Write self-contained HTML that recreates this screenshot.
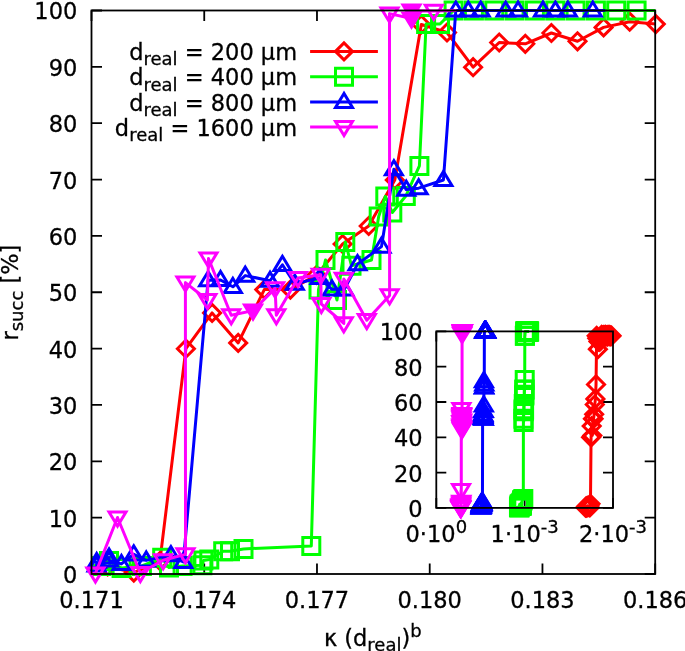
<!DOCTYPE html>
<html lang="en"><head><meta charset="utf-8"><title>r_succ vs kappa</title>
<style>html,body{margin:0;padding:0;background:#fff;}svg{display:block;}text{stroke:#000;stroke-width:0.3px;}</style></head>
<body>
<svg width="685" height="651" viewBox="0 0 685 651" font-family="'DejaVu Sans', 'Liberation Sans', sans-serif" font-size="22.5" fill="#000" stroke="none">
<rect width="685" height="651" fill="#fff"/>
<defs><clipPath id="pc"><rect x="91.5" y="8.5" width="563.7" height="567.5"/></clipPath></defs>
<path d="M91.5,574 h10.5 M655.2,574 h-10.5 M91.5,517.65 h10.5 M655.2,517.65 h-10.5 M91.5,461.3 h10.5 M655.2,461.3 h-10.5 M91.5,404.95 h10.5 M655.2,404.95 h-10.5 M91.5,348.6 h10.5 M655.2,348.6 h-10.5 M91.5,292.25 h10.5 M655.2,292.25 h-10.5 M91.5,235.9 h10.5 M655.2,235.9 h-10.5 M91.5,179.55 h10.5 M655.2,179.55 h-10.5 M91.5,123.2 h10.5 M655.2,123.2 h-10.5 M91.5,66.85 h10.5 M655.2,66.85 h-10.5 M91.5,10.5 h10.5 M655.2,10.5 h-10.5 M91.5,574 v-10.5 M91.5,10.5 v10.5 M204.24,574 v-10.5 M204.24,10.5 v10.5 M316.98,574 v-10.5 M316.98,10.5 v10.5 M429.72,574 v-10.5 M542.46,574 v-10.5 M655.2,574 v-10.5 M655.2,10.5 v10.5" stroke="#000" stroke-width="1.8" fill="none"/>
<line x1="310.1" y1="51.4" x2="377.9" y2="51.4" stroke="#ff0000" stroke-width="3.0"/>
<path d="M335.5,51.4 L344,42.9 L352.5,51.4 L344,59.9 Z" fill="none" stroke="#ff0000" stroke-width="3.0" stroke-linejoin="miter" stroke-miterlimit="10"/>
<polyline points="81.6,568.93 107.7,566.5 133.8,572.6 159.9,561 185.9,348.7 212.1,312.9 238.2,342.9 264.3,289.6 290.4,289.6 316.5,275 342.6,244 368.7,226 394.8,180 421.3,24.5 447,32.5 473.1,67.2 499.2,42.5 525.3,43.8 551.4,33 577.5,41.3 603.6,27.4 629.7,21.7 655.8,24.1 681.9,26.28" fill="none" stroke="#ff0000" stroke-width="3.0" stroke-linejoin="round" clip-path="url(#pc)"/>
<path d="M99.2,566.5 L107.7,558 L116.2,566.5 L107.7,575 Z" fill="none" stroke="#ff0000" stroke-width="3.0" stroke-linejoin="miter" stroke-miterlimit="10"/>
<path d="M125.3,572.6 L133.8,564.1 L142.3,572.6 L133.8,581.1 Z" fill="none" stroke="#ff0000" stroke-width="3.0" stroke-linejoin="miter" stroke-miterlimit="10"/>
<path d="M151.4,561 L159.9,552.5 L168.4,561 L159.9,569.5 Z" fill="none" stroke="#ff0000" stroke-width="3.0" stroke-linejoin="miter" stroke-miterlimit="10"/>
<path d="M177.4,348.7 L185.9,340.2 L194.4,348.7 L185.9,357.2 Z" fill="none" stroke="#ff0000" stroke-width="3.0" stroke-linejoin="miter" stroke-miterlimit="10"/>
<path d="M203.6,312.9 L212.1,304.4 L220.6,312.9 L212.1,321.4 Z" fill="none" stroke="#ff0000" stroke-width="3.0" stroke-linejoin="miter" stroke-miterlimit="10"/>
<path d="M229.7,342.9 L238.2,334.4 L246.7,342.9 L238.2,351.4 Z" fill="none" stroke="#ff0000" stroke-width="3.0" stroke-linejoin="miter" stroke-miterlimit="10"/>
<path d="M255.8,289.6 L264.3,281.1 L272.8,289.6 L264.3,298.1 Z" fill="none" stroke="#ff0000" stroke-width="3.0" stroke-linejoin="miter" stroke-miterlimit="10"/>
<path d="M281.9,289.6 L290.4,281.1 L298.9,289.6 L290.4,298.1 Z" fill="none" stroke="#ff0000" stroke-width="3.0" stroke-linejoin="miter" stroke-miterlimit="10"/>
<path d="M308,275 L316.5,266.5 L325,275 L316.5,283.5 Z" fill="none" stroke="#ff0000" stroke-width="3.0" stroke-linejoin="miter" stroke-miterlimit="10"/>
<path d="M334.1,244 L342.6,235.5 L351.1,244 L342.6,252.5 Z" fill="none" stroke="#ff0000" stroke-width="3.0" stroke-linejoin="miter" stroke-miterlimit="10"/>
<path d="M360.2,226 L368.7,217.5 L377.2,226 L368.7,234.5 Z" fill="none" stroke="#ff0000" stroke-width="3.0" stroke-linejoin="miter" stroke-miterlimit="10"/>
<path d="M386.3,180 L394.8,171.5 L403.3,180 L394.8,188.5 Z" fill="none" stroke="#ff0000" stroke-width="3.0" stroke-linejoin="miter" stroke-miterlimit="10"/>
<path d="M412.8,24.5 L421.3,16 L429.8,24.5 L421.3,33 Z" fill="none" stroke="#ff0000" stroke-width="3.0" stroke-linejoin="miter" stroke-miterlimit="10"/>
<path d="M438.5,32.5 L447,24 L455.5,32.5 L447,41 Z" fill="none" stroke="#ff0000" stroke-width="3.0" stroke-linejoin="miter" stroke-miterlimit="10"/>
<path d="M464.6,67.2 L473.1,58.7 L481.6,67.2 L473.1,75.7 Z" fill="none" stroke="#ff0000" stroke-width="3.0" stroke-linejoin="miter" stroke-miterlimit="10"/>
<path d="M490.7,42.5 L499.2,34 L507.7,42.5 L499.2,51 Z" fill="none" stroke="#ff0000" stroke-width="3.0" stroke-linejoin="miter" stroke-miterlimit="10"/>
<path d="M516.8,43.8 L525.3,35.3 L533.8,43.8 L525.3,52.3 Z" fill="none" stroke="#ff0000" stroke-width="3.0" stroke-linejoin="miter" stroke-miterlimit="10"/>
<path d="M542.9,33 L551.4,24.5 L559.9,33 L551.4,41.5 Z" fill="none" stroke="#ff0000" stroke-width="3.0" stroke-linejoin="miter" stroke-miterlimit="10"/>
<path d="M569,41.3 L577.5,32.8 L586,41.3 L577.5,49.8 Z" fill="none" stroke="#ff0000" stroke-width="3.0" stroke-linejoin="miter" stroke-miterlimit="10"/>
<path d="M595.1,27.4 L603.6,18.9 L612.1,27.4 L603.6,35.9 Z" fill="none" stroke="#ff0000" stroke-width="3.0" stroke-linejoin="miter" stroke-miterlimit="10"/>
<path d="M621.2,21.7 L629.7,13.2 L638.2,21.7 L629.7,30.2 Z" fill="none" stroke="#ff0000" stroke-width="3.0" stroke-linejoin="miter" stroke-miterlimit="10"/>
<path d="M647.3,24.1 L655.8,15.6 L664.3,24.1 L655.8,32.6 Z" fill="none" stroke="#ff0000" stroke-width="3.0" stroke-linejoin="miter" stroke-miterlimit="10"/>
<line x1="310.1" y1="76.7" x2="377.9" y2="76.7" stroke="#00ff00" stroke-width="3.0"/>
<path d="M335.5,68.2 H352.5 V85.2 H335.5 Z" fill="none" stroke="#00ff00" stroke-width="3.0" stroke-linejoin="miter" stroke-miterlimit="10"/>
<polyline points="80.97,564.98 101.3,566 109,561 121.6,568 141.9,566 162.2,557.8 169,567.6 182.6,566 202.4,565.2 203.4,560.4 209.3,559.4 223.2,551.3 230,551.3 243.5,548.9 311.3,545.9 318.5,289.5 325.5,260 337,300 345.3,242 351.5,265.7 371.5,260 378.7,216.5 385.3,196.4 392.3,212.5 405.8,196 419.4,165.9 426.1,24 440,24 453.6,10.5 473.93,10.5 494.26,10.5 514.59,10.5 534.92,10.5 555.25,10.5 575.58,10.5 595.91,10.5 616.24,10.5 636.57,10.5 656.9,10.5" fill="none" stroke="#00ff00" stroke-width="3.0" stroke-linejoin="round" clip-path="url(#pc)"/>
<path d="M92.8,557.5 H109.8 V574.5 H92.8 Z" fill="none" stroke="#00ff00" stroke-width="3.0" stroke-linejoin="miter" stroke-miterlimit="10"/>
<path d="M100.5,552.5 H117.5 V569.5 H100.5 Z" fill="none" stroke="#00ff00" stroke-width="3.0" stroke-linejoin="miter" stroke-miterlimit="10"/>
<path d="M113.1,559.5 H130.1 V576.5 H113.1 Z" fill="none" stroke="#00ff00" stroke-width="3.0" stroke-linejoin="miter" stroke-miterlimit="10"/>
<path d="M133.4,557.5 H150.4 V574.5 H133.4 Z" fill="none" stroke="#00ff00" stroke-width="3.0" stroke-linejoin="miter" stroke-miterlimit="10"/>
<path d="M153.7,549.3 H170.7 V566.3 H153.7 Z" fill="none" stroke="#00ff00" stroke-width="3.0" stroke-linejoin="miter" stroke-miterlimit="10"/>
<path d="M160.5,559.1 H177.5 V576.1 H160.5 Z" fill="none" stroke="#00ff00" stroke-width="3.0" stroke-linejoin="miter" stroke-miterlimit="10"/>
<path d="M174.1,557.5 H191.1 V574.5 H174.1 Z" fill="none" stroke="#00ff00" stroke-width="3.0" stroke-linejoin="miter" stroke-miterlimit="10"/>
<path d="M193.9,556.7 H210.9 V573.7 H193.9 Z" fill="none" stroke="#00ff00" stroke-width="3.0" stroke-linejoin="miter" stroke-miterlimit="10"/>
<path d="M194.9,551.9 H211.9 V568.9 H194.9 Z" fill="none" stroke="#00ff00" stroke-width="3.0" stroke-linejoin="miter" stroke-miterlimit="10"/>
<path d="M200.8,550.9 H217.8 V567.9 H200.8 Z" fill="none" stroke="#00ff00" stroke-width="3.0" stroke-linejoin="miter" stroke-miterlimit="10"/>
<path d="M214.7,542.8 H231.7 V559.8 H214.7 Z" fill="none" stroke="#00ff00" stroke-width="3.0" stroke-linejoin="miter" stroke-miterlimit="10"/>
<path d="M221.5,542.8 H238.5 V559.8 H221.5 Z" fill="none" stroke="#00ff00" stroke-width="3.0" stroke-linejoin="miter" stroke-miterlimit="10"/>
<path d="M235,540.4 H252 V557.4 H235 Z" fill="none" stroke="#00ff00" stroke-width="3.0" stroke-linejoin="miter" stroke-miterlimit="10"/>
<path d="M302.8,537.4 H319.8 V554.4 H302.8 Z" fill="none" stroke="#00ff00" stroke-width="3.0" stroke-linejoin="miter" stroke-miterlimit="10"/>
<path d="M310,281 H327 V298 H310 Z" fill="none" stroke="#00ff00" stroke-width="3.0" stroke-linejoin="miter" stroke-miterlimit="10"/>
<path d="M317,251.5 H334 V268.5 H317 Z" fill="none" stroke="#00ff00" stroke-width="3.0" stroke-linejoin="miter" stroke-miterlimit="10"/>
<path d="M328.5,291.5 H345.5 V308.5 H328.5 Z" fill="none" stroke="#00ff00" stroke-width="3.0" stroke-linejoin="miter" stroke-miterlimit="10"/>
<path d="M336.8,233.5 H353.8 V250.5 H336.8 Z" fill="none" stroke="#00ff00" stroke-width="3.0" stroke-linejoin="miter" stroke-miterlimit="10"/>
<path d="M343,257.2 H360 V274.2 H343 Z" fill="none" stroke="#00ff00" stroke-width="3.0" stroke-linejoin="miter" stroke-miterlimit="10"/>
<path d="M363,251.5 H380 V268.5 H363 Z" fill="none" stroke="#00ff00" stroke-width="3.0" stroke-linejoin="miter" stroke-miterlimit="10"/>
<path d="M370.2,208 H387.2 V225 H370.2 Z" fill="none" stroke="#00ff00" stroke-width="3.0" stroke-linejoin="miter" stroke-miterlimit="10"/>
<path d="M376.8,187.9 H393.8 V204.9 H376.8 Z" fill="none" stroke="#00ff00" stroke-width="3.0" stroke-linejoin="miter" stroke-miterlimit="10"/>
<path d="M383.8,204 H400.8 V221 H383.8 Z" fill="none" stroke="#00ff00" stroke-width="3.0" stroke-linejoin="miter" stroke-miterlimit="10"/>
<path d="M397.3,187.5 H414.3 V204.5 H397.3 Z" fill="none" stroke="#00ff00" stroke-width="3.0" stroke-linejoin="miter" stroke-miterlimit="10"/>
<path d="M410.9,157.4 H427.9 V174.4 H410.9 Z" fill="none" stroke="#00ff00" stroke-width="3.0" stroke-linejoin="miter" stroke-miterlimit="10"/>
<path d="M417.6,15.5 H434.6 V32.5 H417.6 Z" fill="none" stroke="#00ff00" stroke-width="3.0" stroke-linejoin="miter" stroke-miterlimit="10"/>
<path d="M431.5,15.5 H448.5 V32.5 H431.5 Z" fill="none" stroke="#00ff00" stroke-width="3.0" stroke-linejoin="miter" stroke-miterlimit="10"/>
<path d="M445.1,2 H462.1 V19 H445.1 Z" fill="none" stroke="#00ff00" stroke-width="3.0" stroke-linejoin="miter" stroke-miterlimit="10"/>
<path d="M465.43,2 H482.43 V19 H465.43 Z" fill="none" stroke="#00ff00" stroke-width="3.0" stroke-linejoin="miter" stroke-miterlimit="10"/>
<path d="M485.76,2 H502.76 V19 H485.76 Z" fill="none" stroke="#00ff00" stroke-width="3.0" stroke-linejoin="miter" stroke-miterlimit="10"/>
<path d="M506.09,2 H523.09 V19 H506.09 Z" fill="none" stroke="#00ff00" stroke-width="3.0" stroke-linejoin="miter" stroke-miterlimit="10"/>
<path d="M526.42,2 H543.42 V19 H526.42 Z" fill="none" stroke="#00ff00" stroke-width="3.0" stroke-linejoin="miter" stroke-miterlimit="10"/>
<path d="M546.75,2 H563.75 V19 H546.75 Z" fill="none" stroke="#00ff00" stroke-width="3.0" stroke-linejoin="miter" stroke-miterlimit="10"/>
<path d="M567.08,2 H584.08 V19 H567.08 Z" fill="none" stroke="#00ff00" stroke-width="3.0" stroke-linejoin="miter" stroke-miterlimit="10"/>
<path d="M587.41,2 H604.41 V19 H587.41 Z" fill="none" stroke="#00ff00" stroke-width="3.0" stroke-linejoin="miter" stroke-miterlimit="10"/>
<path d="M607.74,2 H624.74 V19 H607.74 Z" fill="none" stroke="#00ff00" stroke-width="3.0" stroke-linejoin="miter" stroke-miterlimit="10"/>
<path d="M628.07,2 H645.07 V19 H628.07 Z" fill="none" stroke="#00ff00" stroke-width="3.0" stroke-linejoin="miter" stroke-miterlimit="10"/>
<line x1="310.1" y1="102.0" x2="377.9" y2="102.0" stroke="#0000ff" stroke-width="3.0"/>
<path d="M344,93.5 L335.5,107.6 L352.5,107.6 Z" fill="none" stroke="#0000ff" stroke-width="3.0" stroke-linejoin="miter" stroke-miterlimit="10"/>
<polyline points="84.25,561.6 96.63,562 96.63,565.3 109.02,557.5 109.02,560.4 121.41,563.9 133.79,554.3 146.18,560.4 170.94,555.1 183.33,562 208.1,280.2 220.49,280 232.87,286.8 245.26,275.6 270.02,280.7 282.41,264.8 294.8,283.7 319.57,278 331.95,289.3 344.34,289.3 357.52,264.1 381.49,246.6 393.88,169.2 406.26,189.6 418.64,188.2 443.42,180 455.8,10.5 468.25,10.5 480.7,10.5 505.6,10.5 518.05,10.5 542.95,10.5 555.4,10.5 567.85,10.5 592.75,10.5 605.2,10.5" fill="none" stroke="#0000ff" stroke-width="3.0" stroke-linejoin="round" clip-path="url(#pc)"/>
<path d="M96.63,553.5 L88.13,567.6 L105.13,567.6 Z" fill="none" stroke="#0000ff" stroke-width="3.0" stroke-linejoin="miter" stroke-miterlimit="10"/>
<path d="M96.63,556.8 L88.13,570.9 L105.13,570.9 Z" fill="none" stroke="#0000ff" stroke-width="3.0" stroke-linejoin="miter" stroke-miterlimit="10"/>
<path d="M109.02,549 L100.52,563.1 L117.52,563.1 Z" fill="none" stroke="#0000ff" stroke-width="3.0" stroke-linejoin="miter" stroke-miterlimit="10"/>
<path d="M109.02,551.9 L100.52,566 L117.52,566 Z" fill="none" stroke="#0000ff" stroke-width="3.0" stroke-linejoin="miter" stroke-miterlimit="10"/>
<path d="M121.41,555.4 L112.91,569.5 L129.91,569.5 Z" fill="none" stroke="#0000ff" stroke-width="3.0" stroke-linejoin="miter" stroke-miterlimit="10"/>
<path d="M133.79,545.8 L125.29,559.9 L142.29,559.9 Z" fill="none" stroke="#0000ff" stroke-width="3.0" stroke-linejoin="miter" stroke-miterlimit="10"/>
<path d="M146.18,551.9 L137.68,566 L154.68,566 Z" fill="none" stroke="#0000ff" stroke-width="3.0" stroke-linejoin="miter" stroke-miterlimit="10"/>
<path d="M170.94,546.6 L162.44,560.7 L179.44,560.7 Z" fill="none" stroke="#0000ff" stroke-width="3.0" stroke-linejoin="miter" stroke-miterlimit="10"/>
<path d="M183.33,553.5 L174.83,567.6 L191.83,567.6 Z" fill="none" stroke="#0000ff" stroke-width="3.0" stroke-linejoin="miter" stroke-miterlimit="10"/>
<path d="M208.1,271.7 L199.6,285.8 L216.6,285.8 Z" fill="none" stroke="#0000ff" stroke-width="3.0" stroke-linejoin="miter" stroke-miterlimit="10"/>
<path d="M220.49,271.5 L211.99,285.6 L228.99,285.6 Z" fill="none" stroke="#0000ff" stroke-width="3.0" stroke-linejoin="miter" stroke-miterlimit="10"/>
<path d="M232.87,278.3 L224.37,292.4 L241.37,292.4 Z" fill="none" stroke="#0000ff" stroke-width="3.0" stroke-linejoin="miter" stroke-miterlimit="10"/>
<path d="M245.26,267.1 L236.76,281.2 L253.76,281.2 Z" fill="none" stroke="#0000ff" stroke-width="3.0" stroke-linejoin="miter" stroke-miterlimit="10"/>
<path d="M270.02,272.2 L261.52,286.3 L278.52,286.3 Z" fill="none" stroke="#0000ff" stroke-width="3.0" stroke-linejoin="miter" stroke-miterlimit="10"/>
<path d="M282.41,256.3 L273.91,270.4 L290.91,270.4 Z" fill="none" stroke="#0000ff" stroke-width="3.0" stroke-linejoin="miter" stroke-miterlimit="10"/>
<path d="M294.8,275.2 L286.3,289.3 L303.3,289.3 Z" fill="none" stroke="#0000ff" stroke-width="3.0" stroke-linejoin="miter" stroke-miterlimit="10"/>
<path d="M319.57,269.5 L311.07,283.6 L328.07,283.6 Z" fill="none" stroke="#0000ff" stroke-width="3.0" stroke-linejoin="miter" stroke-miterlimit="10"/>
<path d="M331.95,280.8 L323.45,294.9 L340.45,294.9 Z" fill="none" stroke="#0000ff" stroke-width="3.0" stroke-linejoin="miter" stroke-miterlimit="10"/>
<path d="M344.34,280.8 L335.84,294.9 L352.84,294.9 Z" fill="none" stroke="#0000ff" stroke-width="3.0" stroke-linejoin="miter" stroke-miterlimit="10"/>
<path d="M357.52,255.6 L349.02,269.7 L366.02,269.7 Z" fill="none" stroke="#0000ff" stroke-width="3.0" stroke-linejoin="miter" stroke-miterlimit="10"/>
<path d="M381.49,238.1 L372.99,252.2 L389.99,252.2 Z" fill="none" stroke="#0000ff" stroke-width="3.0" stroke-linejoin="miter" stroke-miterlimit="10"/>
<path d="M393.88,160.7 L385.38,174.8 L402.38,174.8 Z" fill="none" stroke="#0000ff" stroke-width="3.0" stroke-linejoin="miter" stroke-miterlimit="10"/>
<path d="M406.26,181.1 L397.76,195.2 L414.76,195.2 Z" fill="none" stroke="#0000ff" stroke-width="3.0" stroke-linejoin="miter" stroke-miterlimit="10"/>
<path d="M418.64,179.7 L410.14,193.8 L427.14,193.8 Z" fill="none" stroke="#0000ff" stroke-width="3.0" stroke-linejoin="miter" stroke-miterlimit="10"/>
<path d="M443.42,171.5 L434.92,185.6 L451.92,185.6 Z" fill="none" stroke="#0000ff" stroke-width="3.0" stroke-linejoin="miter" stroke-miterlimit="10"/>
<path d="M455.8,2 L447.3,16.1 L464.3,16.1 Z" fill="none" stroke="#0000ff" stroke-width="3.0" stroke-linejoin="miter" stroke-miterlimit="10"/>
<path d="M468.25,2 L459.75,16.1 L476.75,16.1 Z" fill="none" stroke="#0000ff" stroke-width="3.0" stroke-linejoin="miter" stroke-miterlimit="10"/>
<path d="M480.7,2 L472.2,16.1 L489.2,16.1 Z" fill="none" stroke="#0000ff" stroke-width="3.0" stroke-linejoin="miter" stroke-miterlimit="10"/>
<path d="M505.6,2 L497.1,16.1 L514.1,16.1 Z" fill="none" stroke="#0000ff" stroke-width="3.0" stroke-linejoin="miter" stroke-miterlimit="10"/>
<path d="M518.05,2 L509.55,16.1 L526.55,16.1 Z" fill="none" stroke="#0000ff" stroke-width="3.0" stroke-linejoin="miter" stroke-miterlimit="10"/>
<path d="M542.95,2 L534.45,16.1 L551.45,16.1 Z" fill="none" stroke="#0000ff" stroke-width="3.0" stroke-linejoin="miter" stroke-miterlimit="10"/>
<path d="M555.4,2 L546.9,16.1 L563.9,16.1 Z" fill="none" stroke="#0000ff" stroke-width="3.0" stroke-linejoin="miter" stroke-miterlimit="10"/>
<path d="M567.85,2 L559.35,16.1 L576.35,16.1 Z" fill="none" stroke="#0000ff" stroke-width="3.0" stroke-linejoin="miter" stroke-miterlimit="10"/>
<path d="M592.75,2 L584.25,16.1 L601.25,16.1 Z" fill="none" stroke="#0000ff" stroke-width="3.0" stroke-linejoin="miter" stroke-miterlimit="10"/>
<line x1="310.1" y1="127.1" x2="377.9" y2="127.1" stroke="#ff00ff" stroke-width="3.0"/>
<path d="M344,135.6 L335.5,121.5 L352.5,121.5 Z" fill="none" stroke="#ff00ff" stroke-width="3.0" stroke-linejoin="miter" stroke-miterlimit="10"/>
<polyline points="72.8,572.31 95.4,573.5 117.5,517.5 140.3,573 163.1,560.3 185.5,554.4 185.4,282.6 207.4,300 208.5,258.5 231.2,315.3 253,310.6 275.1,288.4 276.3,315.3 298,278 320.7,274.8 321.3,304 343.8,323.4 343.8,278.9 366.8,320.2 389.6,295.4 389.5,13.6 411.5,18.5 411.5,10.7 433.8,10.9 456.4,10.5" fill="none" stroke="#ff00ff" stroke-width="3.0" stroke-linejoin="round" clip-path="url(#pc)"/>
<path d="M95.4,582 L86.9,567.9 L103.9,567.9 Z" fill="none" stroke="#ff00ff" stroke-width="3.0" stroke-linejoin="miter" stroke-miterlimit="10"/>
<path d="M117.5,526 L109,511.9 L126,511.9 Z" fill="none" stroke="#ff00ff" stroke-width="3.0" stroke-linejoin="miter" stroke-miterlimit="10"/>
<path d="M140.3,581.5 L131.8,567.4 L148.8,567.4 Z" fill="none" stroke="#ff00ff" stroke-width="3.0" stroke-linejoin="miter" stroke-miterlimit="10"/>
<path d="M163.1,568.8 L154.6,554.7 L171.6,554.7 Z" fill="none" stroke="#ff00ff" stroke-width="3.0" stroke-linejoin="miter" stroke-miterlimit="10"/>
<path d="M185.5,562.9 L177,548.8 L194,548.8 Z" fill="none" stroke="#ff00ff" stroke-width="3.0" stroke-linejoin="miter" stroke-miterlimit="10"/>
<path d="M185.4,291.1 L176.9,277 L193.9,277 Z" fill="none" stroke="#ff00ff" stroke-width="3.0" stroke-linejoin="miter" stroke-miterlimit="10"/>
<path d="M207.4,308.5 L198.9,294.4 L215.9,294.4 Z" fill="none" stroke="#ff00ff" stroke-width="3.0" stroke-linejoin="miter" stroke-miterlimit="10"/>
<path d="M208.5,267 L200,252.9 L217,252.9 Z" fill="none" stroke="#ff00ff" stroke-width="3.0" stroke-linejoin="miter" stroke-miterlimit="10"/>
<path d="M231.2,323.8 L222.7,309.7 L239.7,309.7 Z" fill="none" stroke="#ff00ff" stroke-width="3.0" stroke-linejoin="miter" stroke-miterlimit="10"/>
<path d="M253,319.1 L244.5,305 L261.5,305 Z" fill="#ff00ff" stroke="#ff00ff" stroke-width="3.0" stroke-linejoin="miter" stroke-miterlimit="10"/>
<path d="M275.1,296.9 L266.6,282.8 L283.6,282.8 Z" fill="none" stroke="#ff00ff" stroke-width="3.0" stroke-linejoin="miter" stroke-miterlimit="10"/>
<path d="M276.3,323.8 L267.8,309.7 L284.8,309.7 Z" fill="none" stroke="#ff00ff" stroke-width="3.0" stroke-linejoin="miter" stroke-miterlimit="10"/>
<path d="M298,286.5 L289.5,272.4 L306.5,272.4 Z" fill="none" stroke="#ff00ff" stroke-width="3.0" stroke-linejoin="miter" stroke-miterlimit="10"/>
<path d="M320.7,283.3 L312.2,269.2 L329.2,269.2 Z" fill="none" stroke="#ff00ff" stroke-width="3.0" stroke-linejoin="miter" stroke-miterlimit="10"/>
<path d="M321.3,312.5 L312.8,298.4 L329.8,298.4 Z" fill="none" stroke="#ff00ff" stroke-width="3.0" stroke-linejoin="miter" stroke-miterlimit="10"/>
<path d="M343.8,331.9 L335.3,317.8 L352.3,317.8 Z" fill="none" stroke="#ff00ff" stroke-width="3.0" stroke-linejoin="miter" stroke-miterlimit="10"/>
<path d="M343.8,287.4 L335.3,273.3 L352.3,273.3 Z" fill="none" stroke="#ff00ff" stroke-width="3.0" stroke-linejoin="miter" stroke-miterlimit="10"/>
<path d="M366.8,328.7 L358.3,314.6 L375.3,314.6 Z" fill="none" stroke="#ff00ff" stroke-width="3.0" stroke-linejoin="miter" stroke-miterlimit="10"/>
<path d="M389.6,303.9 L381.1,289.8 L398.1,289.8 Z" fill="none" stroke="#ff00ff" stroke-width="3.0" stroke-linejoin="miter" stroke-miterlimit="10"/>
<path d="M389.5,22.1 L381,8 L398,8 Z" fill="none" stroke="#ff00ff" stroke-width="3.0" stroke-linejoin="miter" stroke-miterlimit="10"/>
<path d="M411.5,27 L403,12.9 L420,12.9 Z" fill="#ff00ff" stroke="#ff00ff" stroke-width="3.0" stroke-linejoin="miter" stroke-miterlimit="10"/>
<path d="M411.5,19.2 L403,5.1 L420,5.1 Z" fill="#ff00ff" stroke="#ff00ff" stroke-width="3.0" stroke-linejoin="miter" stroke-miterlimit="10"/>
<path d="M433.8,19.4 L425.3,5.3 L442.3,5.3 Z" fill="none" stroke="#ff00ff" stroke-width="3.0" stroke-linejoin="miter" stroke-miterlimit="10"/>
<rect x="91.5" y="10.5" width="563.7" height="563.5" fill="none" stroke="#000" stroke-width="1.8"/>
<text x="77.3" y="582.95" text-anchor="end">0</text>
<text x="77.3" y="526.6" text-anchor="end">10</text>
<text x="77.3" y="470.25" text-anchor="end">20</text>
<text x="77.3" y="413.9" text-anchor="end">30</text>
<text x="77.3" y="357.55" text-anchor="end">40</text>
<text x="77.3" y="301.2" text-anchor="end">50</text>
<text x="77.3" y="244.85" text-anchor="end">60</text>
<text x="77.3" y="188.5" text-anchor="end">70</text>
<text x="77.3" y="132.15" text-anchor="end">80</text>
<text x="77.3" y="75.8" text-anchor="end">90</text>
<text x="77.3" y="19.45" text-anchor="end">100</text>
<text x="91.5" y="607.6" text-anchor="middle">0.171</text>
<text x="204.24" y="607.6" text-anchor="middle">0.174</text>
<text x="316.98" y="607.6" text-anchor="middle">0.177</text>
<text x="429.72" y="607.6" text-anchor="middle">0.180</text>
<text x="542.46" y="607.6" text-anchor="middle">0.183</text>
<text x="655.2" y="607.6" text-anchor="middle">0.186</text>
<text transform="translate(17.5,292.6) rotate(-90)" text-anchor="middle">r<tspan font-size="18" dy="5.2">succ</tspan><tspan dy="-5.2"> [%]</tspan></text>
<text x="372.8" y="645.8" text-anchor="middle">κ (d<tspan font-size="18" dy="5.2">real</tspan><tspan dy="-5.2">)</tspan><tspan font-size="18" dy="-9">b</tspan></text>
<text x="297.1" y="60" text-anchor="end">d<tspan font-size="18" dy="5.2">real</tspan><tspan dy="-5.2"> = 200 µm</tspan></text>
<text x="297.1" y="85.3" text-anchor="end">d<tspan font-size="18" dy="5.2">real</tspan><tspan dy="-5.2"> = 400 µm</tspan></text>
<text x="297.1" y="110.6" text-anchor="end">d<tspan font-size="18" dy="5.2">real</tspan><tspan dy="-5.2"> = 800 µm</tspan></text>
<text x="297.1" y="135.7" text-anchor="end">d<tspan font-size="18" dy="5.2">real</tspan><tspan dy="-5.2"> = 1600 µm</tspan></text>
<path d="M436.3,507.9 h10 M613,507.9 h-10 M436.3,472.6 h10 M613,472.6 h-10 M436.3,437.3 h10 M613,437.3 h-10 M436.3,402 h10 M613,402 h-10 M436.3,366.7 h10 M613,366.7 h-10 M436.3,331.4 h10 M613,331.4 h-10 M436.3,507.9 v-10 M436.3,331.4 v10 M524.65,507.9 v-10 M524.65,331.4 v10 M613,507.9 v-10 M613,331.4 v10" stroke="#000" stroke-width="1.8" fill="none"/>
<polyline points="585.5,507.55 586.12,506.49 586.74,507.72 587.36,505.78 587.98,507.19 588.6,506.31 589.22,505.55 589.84,507.46 590.46,503.83 591.07,437.33 591.69,426.12 592.31,435.51 592.93,418.82 593.55,418.82 594.17,414.25 594.79,404.54 595.41,398.9 596.03,384.49 596.66,335.79 597.27,338.29 597.89,349.16 598.51,341.42 599.13,341.83 599.75,338.45 600.37,341.05 600.99,336.69 601.61,334.91 602.23,335.66 602.85,336.34 603.47,335.11 604.08,336.69 604.7,335.46 605.32,334.93 605.94,335.99 606.56,335.28 607.18,336.52 607.8,335.11 608.42,335.81 609.04,334.93 609.66,336.17 610.28,335.28 610.9,336.34 611.52,335.64" fill="none" stroke="#ff0000" stroke-width="3.0" stroke-linejoin="round"/>
<path d="M577,507.55 L585.5,499.05 L594,507.55 L585.5,516.05 Z" fill="none" stroke="#ff0000" stroke-width="3.0" stroke-linejoin="miter" stroke-miterlimit="10"/>
<path d="M577.62,506.49 L586.12,497.99 L594.62,506.49 L586.12,514.99 Z" fill="none" stroke="#ff0000" stroke-width="3.0" stroke-linejoin="miter" stroke-miterlimit="10"/>
<path d="M578.24,507.72 L586.74,499.22 L595.24,507.72 L586.74,516.22 Z" fill="none" stroke="#ff0000" stroke-width="3.0" stroke-linejoin="miter" stroke-miterlimit="10"/>
<path d="M578.86,505.78 L587.36,497.28 L595.86,505.78 L587.36,514.28 Z" fill="none" stroke="#ff0000" stroke-width="3.0" stroke-linejoin="miter" stroke-miterlimit="10"/>
<path d="M579.48,507.19 L587.98,498.69 L596.48,507.19 L587.98,515.69 Z" fill="none" stroke="#ff0000" stroke-width="3.0" stroke-linejoin="miter" stroke-miterlimit="10"/>
<path d="M580.1,506.31 L588.6,497.81 L597.1,506.31 L588.6,514.81 Z" fill="none" stroke="#ff0000" stroke-width="3.0" stroke-linejoin="miter" stroke-miterlimit="10"/>
<path d="M580.72,505.55 L589.22,497.05 L597.72,505.55 L589.22,514.05 Z" fill="none" stroke="#ff0000" stroke-width="3.0" stroke-linejoin="miter" stroke-miterlimit="10"/>
<path d="M581.34,507.46 L589.84,498.96 L598.34,507.46 L589.84,515.96 Z" fill="none" stroke="#ff0000" stroke-width="3.0" stroke-linejoin="miter" stroke-miterlimit="10"/>
<path d="M581.96,503.83 L590.46,495.33 L598.96,503.83 L590.46,512.33 Z" fill="none" stroke="#ff0000" stroke-width="3.0" stroke-linejoin="miter" stroke-miterlimit="10"/>
<path d="M582.57,437.33 L591.07,428.83 L599.57,437.33 L591.07,445.83 Z" fill="none" stroke="#ff0000" stroke-width="3.0" stroke-linejoin="miter" stroke-miterlimit="10"/>
<path d="M583.19,426.12 L591.69,417.62 L600.19,426.12 L591.69,434.62 Z" fill="none" stroke="#ff0000" stroke-width="3.0" stroke-linejoin="miter" stroke-miterlimit="10"/>
<path d="M583.81,435.51 L592.31,427.01 L600.81,435.51 L592.31,444.01 Z" fill="none" stroke="#ff0000" stroke-width="3.0" stroke-linejoin="miter" stroke-miterlimit="10"/>
<path d="M584.43,418.82 L592.93,410.32 L601.43,418.82 L592.93,427.32 Z" fill="none" stroke="#ff0000" stroke-width="3.0" stroke-linejoin="miter" stroke-miterlimit="10"/>
<path d="M585.05,418.82 L593.55,410.32 L602.05,418.82 L593.55,427.32 Z" fill="none" stroke="#ff0000" stroke-width="3.0" stroke-linejoin="miter" stroke-miterlimit="10"/>
<path d="M585.67,414.25 L594.17,405.75 L602.67,414.25 L594.17,422.75 Z" fill="none" stroke="#ff0000" stroke-width="3.0" stroke-linejoin="miter" stroke-miterlimit="10"/>
<path d="M586.29,404.54 L594.79,396.04 L603.29,404.54 L594.79,413.04 Z" fill="none" stroke="#ff0000" stroke-width="3.0" stroke-linejoin="miter" stroke-miterlimit="10"/>
<path d="M586.91,398.9 L595.41,390.4 L603.91,398.9 L595.41,407.4 Z" fill="none" stroke="#ff0000" stroke-width="3.0" stroke-linejoin="miter" stroke-miterlimit="10"/>
<path d="M587.53,384.49 L596.03,375.99 L604.53,384.49 L596.03,392.99 Z" fill="none" stroke="#ff0000" stroke-width="3.0" stroke-linejoin="miter" stroke-miterlimit="10"/>
<path d="M588.16,335.79 L596.66,327.29 L605.16,335.79 L596.66,344.29 Z" fill="none" stroke="#ff0000" stroke-width="3.0" stroke-linejoin="miter" stroke-miterlimit="10"/>
<path d="M588.77,338.29 L597.27,329.79 L605.77,338.29 L597.27,346.79 Z" fill="none" stroke="#ff0000" stroke-width="3.0" stroke-linejoin="miter" stroke-miterlimit="10"/>
<path d="M589.39,349.16 L597.89,340.66 L606.39,349.16 L597.89,357.66 Z" fill="none" stroke="#ff0000" stroke-width="3.0" stroke-linejoin="miter" stroke-miterlimit="10"/>
<path d="M590.01,341.42 L598.51,332.92 L607.01,341.42 L598.51,349.92 Z" fill="none" stroke="#ff0000" stroke-width="3.0" stroke-linejoin="miter" stroke-miterlimit="10"/>
<path d="M590.63,341.83 L599.13,333.33 L607.63,341.83 L599.13,350.33 Z" fill="none" stroke="#ff0000" stroke-width="3.0" stroke-linejoin="miter" stroke-miterlimit="10"/>
<path d="M591.25,338.45 L599.75,329.95 L608.25,338.45 L599.75,346.95 Z" fill="none" stroke="#ff0000" stroke-width="3.0" stroke-linejoin="miter" stroke-miterlimit="10"/>
<path d="M591.87,341.05 L600.37,332.55 L608.87,341.05 L600.37,349.55 Z" fill="none" stroke="#ff0000" stroke-width="3.0" stroke-linejoin="miter" stroke-miterlimit="10"/>
<path d="M592.49,336.69 L600.99,328.19 L609.49,336.69 L600.99,345.19 Z" fill="none" stroke="#ff0000" stroke-width="3.0" stroke-linejoin="miter" stroke-miterlimit="10"/>
<path d="M593.11,334.91 L601.61,326.41 L610.11,334.91 L601.61,343.41 Z" fill="none" stroke="#ff0000" stroke-width="3.0" stroke-linejoin="miter" stroke-miterlimit="10"/>
<path d="M593.73,335.66 L602.23,327.16 L610.73,335.66 L602.23,344.16 Z" fill="none" stroke="#ff0000" stroke-width="3.0" stroke-linejoin="miter" stroke-miterlimit="10"/>
<path d="M594.35,336.34 L602.85,327.84 L611.35,336.34 L602.85,344.84 Z" fill="none" stroke="#ff0000" stroke-width="3.0" stroke-linejoin="miter" stroke-miterlimit="10"/>
<path d="M594.97,335.11 L603.47,326.61 L611.97,335.11 L603.47,343.61 Z" fill="none" stroke="#ff0000" stroke-width="3.0" stroke-linejoin="miter" stroke-miterlimit="10"/>
<path d="M595.58,336.69 L604.08,328.19 L612.58,336.69 L604.08,345.19 Z" fill="none" stroke="#ff0000" stroke-width="3.0" stroke-linejoin="miter" stroke-miterlimit="10"/>
<path d="M596.2,335.46 L604.7,326.96 L613.2,335.46 L604.7,343.96 Z" fill="none" stroke="#ff0000" stroke-width="3.0" stroke-linejoin="miter" stroke-miterlimit="10"/>
<path d="M596.82,334.93 L605.32,326.43 L613.82,334.93 L605.32,343.43 Z" fill="none" stroke="#ff0000" stroke-width="3.0" stroke-linejoin="miter" stroke-miterlimit="10"/>
<path d="M597.44,335.99 L605.94,327.49 L614.44,335.99 L605.94,344.49 Z" fill="none" stroke="#ff0000" stroke-width="3.0" stroke-linejoin="miter" stroke-miterlimit="10"/>
<path d="M598.06,335.28 L606.56,326.78 L615.06,335.28 L606.56,343.78 Z" fill="none" stroke="#ff0000" stroke-width="3.0" stroke-linejoin="miter" stroke-miterlimit="10"/>
<path d="M598.68,336.52 L607.18,328.02 L615.68,336.52 L607.18,345.02 Z" fill="none" stroke="#ff0000" stroke-width="3.0" stroke-linejoin="miter" stroke-miterlimit="10"/>
<path d="M599.3,335.11 L607.8,326.61 L616.3,335.11 L607.8,343.61 Z" fill="none" stroke="#ff0000" stroke-width="3.0" stroke-linejoin="miter" stroke-miterlimit="10"/>
<path d="M599.92,335.81 L608.42,327.31 L616.92,335.81 L608.42,344.31 Z" fill="none" stroke="#ff0000" stroke-width="3.0" stroke-linejoin="miter" stroke-miterlimit="10"/>
<path d="M600.54,334.93 L609.04,326.43 L617.54,334.93 L609.04,343.43 Z" fill="none" stroke="#ff0000" stroke-width="3.0" stroke-linejoin="miter" stroke-miterlimit="10"/>
<path d="M601.16,336.17 L609.66,327.67 L618.16,336.17 L609.66,344.67 Z" fill="none" stroke="#ff0000" stroke-width="3.0" stroke-linejoin="miter" stroke-miterlimit="10"/>
<path d="M601.78,335.28 L610.28,326.78 L618.78,335.28 L610.28,343.78 Z" fill="none" stroke="#ff0000" stroke-width="3.0" stroke-linejoin="miter" stroke-miterlimit="10"/>
<path d="M602.4,336.34 L610.9,327.84 L619.4,336.34 L610.9,344.84 Z" fill="none" stroke="#ff0000" stroke-width="3.0" stroke-linejoin="miter" stroke-miterlimit="10"/>
<path d="M603.02,335.64 L611.52,327.14 L620.02,335.64 L611.52,344.14 Z" fill="none" stroke="#ff0000" stroke-width="3.0" stroke-linejoin="miter" stroke-miterlimit="10"/>
<polyline points="518.96,507.37 519.23,505.43 519.5,507.55 519.76,504.19 520.03,506.49 520.29,505.08 520.56,505.39 520.66,503.83 520.83,506.02 521.09,505.39 521.36,502.83 521.45,505.9 521.62,505.39 521.88,505.14 521.9,503.64 521.97,503.33 522.16,500.79 522.25,500.79 522.42,500.04 523.31,499.1 523.4,418.79 523.5,409.55 523.65,422.08 523.75,403.91 523.84,411.33 524.1,409.55 524.19,395.92 524.28,389.63 524.37,394.67 524.55,389.5 524.72,380.07 524.81,335.63 524.99,335.63 525.17,331.4 525.44,331.4 525.7,331.4 525.97,331.4 526.24,331.4 526.5,331.4 526.77,331.4 527.04,331.4 527.3,331.4 527.57,331.4 527.83,331.4 528.1,331.4 528.37,331.4 528.63,331.4 528.9,331.4 529.17,331.4" fill="none" stroke="#00ff00" stroke-width="3.0" stroke-linejoin="round"/>
<path d="M510.46,498.87 H527.46 V515.87 H510.46 Z" fill="none" stroke="#00ff00" stroke-width="3.0" stroke-linejoin="miter" stroke-miterlimit="10"/>
<path d="M510.73,496.93 H527.73 V513.93 H510.73 Z" fill="none" stroke="#00ff00" stroke-width="3.0" stroke-linejoin="miter" stroke-miterlimit="10"/>
<path d="M511,499.05 H528 V516.05 H511 Z" fill="none" stroke="#00ff00" stroke-width="3.0" stroke-linejoin="miter" stroke-miterlimit="10"/>
<path d="M511.26,495.69 H528.26 V512.69 H511.26 Z" fill="none" stroke="#00ff00" stroke-width="3.0" stroke-linejoin="miter" stroke-miterlimit="10"/>
<path d="M511.53,497.99 H528.53 V514.99 H511.53 Z" fill="none" stroke="#00ff00" stroke-width="3.0" stroke-linejoin="miter" stroke-miterlimit="10"/>
<path d="M511.79,496.58 H528.79 V513.58 H511.79 Z" fill="none" stroke="#00ff00" stroke-width="3.0" stroke-linejoin="miter" stroke-miterlimit="10"/>
<path d="M512.06,496.89 H529.06 V513.89 H512.06 Z" fill="none" stroke="#00ff00" stroke-width="3.0" stroke-linejoin="miter" stroke-miterlimit="10"/>
<path d="M512.16,495.33 H529.16 V512.33 H512.16 Z" fill="none" stroke="#00ff00" stroke-width="3.0" stroke-linejoin="miter" stroke-miterlimit="10"/>
<path d="M512.33,497.52 H529.33 V514.52 H512.33 Z" fill="none" stroke="#00ff00" stroke-width="3.0" stroke-linejoin="miter" stroke-miterlimit="10"/>
<path d="M512.59,496.89 H529.59 V513.89 H512.59 Z" fill="none" stroke="#00ff00" stroke-width="3.0" stroke-linejoin="miter" stroke-miterlimit="10"/>
<path d="M512.86,494.33 H529.86 V511.33 H512.86 Z" fill="none" stroke="#00ff00" stroke-width="3.0" stroke-linejoin="miter" stroke-miterlimit="10"/>
<path d="M512.95,497.4 H529.95 V514.4 H512.95 Z" fill="none" stroke="#00ff00" stroke-width="3.0" stroke-linejoin="miter" stroke-miterlimit="10"/>
<path d="M513.12,496.89 H530.12 V513.89 H513.12 Z" fill="none" stroke="#00ff00" stroke-width="3.0" stroke-linejoin="miter" stroke-miterlimit="10"/>
<path d="M513.38,496.64 H530.38 V513.64 H513.38 Z" fill="none" stroke="#00ff00" stroke-width="3.0" stroke-linejoin="miter" stroke-miterlimit="10"/>
<path d="M513.4,495.14 H530.4 V512.14 H513.4 Z" fill="none" stroke="#00ff00" stroke-width="3.0" stroke-linejoin="miter" stroke-miterlimit="10"/>
<path d="M513.47,494.83 H530.47 V511.83 H513.47 Z" fill="none" stroke="#00ff00" stroke-width="3.0" stroke-linejoin="miter" stroke-miterlimit="10"/>
<path d="M513.66,492.29 H530.66 V509.29 H513.66 Z" fill="none" stroke="#00ff00" stroke-width="3.0" stroke-linejoin="miter" stroke-miterlimit="10"/>
<path d="M513.75,492.29 H530.75 V509.29 H513.75 Z" fill="none" stroke="#00ff00" stroke-width="3.0" stroke-linejoin="miter" stroke-miterlimit="10"/>
<path d="M513.92,491.54 H530.92 V508.54 H513.92 Z" fill="none" stroke="#00ff00" stroke-width="3.0" stroke-linejoin="miter" stroke-miterlimit="10"/>
<path d="M514.81,490.6 H531.81 V507.6 H514.81 Z" fill="none" stroke="#00ff00" stroke-width="3.0" stroke-linejoin="miter" stroke-miterlimit="10"/>
<path d="M514.9,410.29 H531.9 V427.29 H514.9 Z" fill="none" stroke="#00ff00" stroke-width="3.0" stroke-linejoin="miter" stroke-miterlimit="10"/>
<path d="M515,401.05 H532 V418.05 H515 Z" fill="none" stroke="#00ff00" stroke-width="3.0" stroke-linejoin="miter" stroke-miterlimit="10"/>
<path d="M515.15,413.58 H532.15 V430.58 H515.15 Z" fill="none" stroke="#00ff00" stroke-width="3.0" stroke-linejoin="miter" stroke-miterlimit="10"/>
<path d="M515.25,395.41 H532.25 V412.41 H515.25 Z" fill="none" stroke="#00ff00" stroke-width="3.0" stroke-linejoin="miter" stroke-miterlimit="10"/>
<path d="M515.34,402.83 H532.34 V419.83 H515.34 Z" fill="none" stroke="#00ff00" stroke-width="3.0" stroke-linejoin="miter" stroke-miterlimit="10"/>
<path d="M515.6,401.05 H532.6 V418.05 H515.6 Z" fill="none" stroke="#00ff00" stroke-width="3.0" stroke-linejoin="miter" stroke-miterlimit="10"/>
<path d="M515.69,387.42 H532.69 V404.42 H515.69 Z" fill="none" stroke="#00ff00" stroke-width="3.0" stroke-linejoin="miter" stroke-miterlimit="10"/>
<path d="M515.78,381.13 H532.78 V398.13 H515.78 Z" fill="none" stroke="#00ff00" stroke-width="3.0" stroke-linejoin="miter" stroke-miterlimit="10"/>
<path d="M515.87,386.17 H532.87 V403.17 H515.87 Z" fill="none" stroke="#00ff00" stroke-width="3.0" stroke-linejoin="miter" stroke-miterlimit="10"/>
<path d="M516.05,381 H533.05 V398 H516.05 Z" fill="none" stroke="#00ff00" stroke-width="3.0" stroke-linejoin="miter" stroke-miterlimit="10"/>
<path d="M516.22,371.57 H533.22 V388.57 H516.22 Z" fill="none" stroke="#00ff00" stroke-width="3.0" stroke-linejoin="miter" stroke-miterlimit="10"/>
<path d="M516.31,327.13 H533.31 V344.13 H516.31 Z" fill="none" stroke="#00ff00" stroke-width="3.0" stroke-linejoin="miter" stroke-miterlimit="10"/>
<path d="M516.49,327.13 H533.49 V344.13 H516.49 Z" fill="none" stroke="#00ff00" stroke-width="3.0" stroke-linejoin="miter" stroke-miterlimit="10"/>
<path d="M516.67,322.9 H533.67 V339.9 H516.67 Z" fill="none" stroke="#00ff00" stroke-width="3.0" stroke-linejoin="miter" stroke-miterlimit="10"/>
<path d="M516.94,322.9 H533.94 V339.9 H516.94 Z" fill="none" stroke="#00ff00" stroke-width="3.0" stroke-linejoin="miter" stroke-miterlimit="10"/>
<path d="M517.2,322.9 H534.2 V339.9 H517.2 Z" fill="none" stroke="#00ff00" stroke-width="3.0" stroke-linejoin="miter" stroke-miterlimit="10"/>
<path d="M517.47,322.9 H534.47 V339.9 H517.47 Z" fill="none" stroke="#00ff00" stroke-width="3.0" stroke-linejoin="miter" stroke-miterlimit="10"/>
<path d="M517.74,322.9 H534.74 V339.9 H517.74 Z" fill="none" stroke="#00ff00" stroke-width="3.0" stroke-linejoin="miter" stroke-miterlimit="10"/>
<path d="M518,322.9 H535 V339.9 H518 Z" fill="none" stroke="#00ff00" stroke-width="3.0" stroke-linejoin="miter" stroke-miterlimit="10"/>
<path d="M518.27,322.9 H535.27 V339.9 H518.27 Z" fill="none" stroke="#00ff00" stroke-width="3.0" stroke-linejoin="miter" stroke-miterlimit="10"/>
<path d="M518.54,322.9 H535.54 V339.9 H518.54 Z" fill="none" stroke="#00ff00" stroke-width="3.0" stroke-linejoin="miter" stroke-miterlimit="10"/>
<path d="M518.8,322.9 H535.8 V339.9 H518.8 Z" fill="none" stroke="#00ff00" stroke-width="3.0" stroke-linejoin="miter" stroke-miterlimit="10"/>
<path d="M519.07,322.9 H536.07 V339.9 H519.07 Z" fill="none" stroke="#00ff00" stroke-width="3.0" stroke-linejoin="miter" stroke-miterlimit="10"/>
<path d="M519.33,322.9 H536.33 V339.9 H519.33 Z" fill="none" stroke="#00ff00" stroke-width="3.0" stroke-linejoin="miter" stroke-miterlimit="10"/>
<path d="M519.6,322.9 H536.6 V339.9 H519.6 Z" fill="none" stroke="#00ff00" stroke-width="3.0" stroke-linejoin="miter" stroke-miterlimit="10"/>
<path d="M519.87,322.9 H536.87 V339.9 H519.87 Z" fill="none" stroke="#00ff00" stroke-width="3.0" stroke-linejoin="miter" stroke-miterlimit="10"/>
<path d="M520.13,322.9 H537.13 V339.9 H520.13 Z" fill="none" stroke="#00ff00" stroke-width="3.0" stroke-linejoin="miter" stroke-miterlimit="10"/>
<path d="M520.4,322.9 H537.4 V339.9 H520.4 Z" fill="none" stroke="#00ff00" stroke-width="3.0" stroke-linejoin="miter" stroke-miterlimit="10"/>
<path d="M520.67,322.9 H537.67 V339.9 H520.67 Z" fill="none" stroke="#00ff00" stroke-width="3.0" stroke-linejoin="miter" stroke-miterlimit="10"/>
<polyline points="480.68,507.19 480.77,505.61 480.86,507.55 480.95,504.37 481.03,506.31 481.12,504.9 481.21,507.37 481.3,503.66 481.38,505.96 481.47,506.84 481.56,504.55 481.65,506.49 481.73,504.02 481.82,504.14 481.82,505.17 481.91,502.73 481.91,503.64 482,504.74 482.09,501.73 482.17,503.64 482.35,501.98 482.44,504.14 482.61,415.88 482.7,415.81 482.79,417.94 482.87,414.43 483.05,416.03 483.14,411.05 483.22,416.97 483.4,415.19 483.49,418.73 483.58,418.73 483.67,410.83 483.84,405.35 483.93,381.11 484.01,387.5 484.1,387.06 484.28,384.49 484.36,331.4 484.45,331.4 484.54,331.4 484.72,331.4 484.81,331.4 484.98,331.4 485.07,331.4 485.16,331.4 485.33,331.4 485.42,331.4 485.51,331.4 485.69,331.4 485.77,331.4 485.86,331.4 486.04,331.4 486.13,331.4" fill="none" stroke="#0000ff" stroke-width="3.0" stroke-linejoin="round"/>
<path d="M480.68,498.69 L472.18,512.79 L489.18,512.79 Z" fill="none" stroke="#0000ff" stroke-width="3.0" stroke-linejoin="miter" stroke-miterlimit="10"/>
<path d="M480.77,497.11 L472.27,511.21 L489.27,511.21 Z" fill="none" stroke="#0000ff" stroke-width="3.0" stroke-linejoin="miter" stroke-miterlimit="10"/>
<path d="M480.86,499.05 L472.36,513.15 L489.36,513.15 Z" fill="none" stroke="#0000ff" stroke-width="3.0" stroke-linejoin="miter" stroke-miterlimit="10"/>
<path d="M480.95,495.87 L472.45,509.97 L489.45,509.97 Z" fill="none" stroke="#0000ff" stroke-width="3.0" stroke-linejoin="miter" stroke-miterlimit="10"/>
<path d="M481.03,497.81 L472.53,511.91 L489.53,511.91 Z" fill="none" stroke="#0000ff" stroke-width="3.0" stroke-linejoin="miter" stroke-miterlimit="10"/>
<path d="M481.12,496.4 L472.62,510.5 L489.62,510.5 Z" fill="none" stroke="#0000ff" stroke-width="3.0" stroke-linejoin="miter" stroke-miterlimit="10"/>
<path d="M481.21,498.87 L472.71,512.97 L489.71,512.97 Z" fill="none" stroke="#0000ff" stroke-width="3.0" stroke-linejoin="miter" stroke-miterlimit="10"/>
<path d="M481.3,495.16 L472.8,509.26 L489.8,509.26 Z" fill="none" stroke="#0000ff" stroke-width="3.0" stroke-linejoin="miter" stroke-miterlimit="10"/>
<path d="M481.38,497.46 L472.88,511.56 L489.88,511.56 Z" fill="none" stroke="#0000ff" stroke-width="3.0" stroke-linejoin="miter" stroke-miterlimit="10"/>
<path d="M481.47,498.34 L472.97,512.44 L489.97,512.44 Z" fill="none" stroke="#0000ff" stroke-width="3.0" stroke-linejoin="miter" stroke-miterlimit="10"/>
<path d="M481.56,496.05 L473.06,510.15 L490.06,510.15 Z" fill="none" stroke="#0000ff" stroke-width="3.0" stroke-linejoin="miter" stroke-miterlimit="10"/>
<path d="M481.65,497.99 L473.15,512.09 L490.15,512.09 Z" fill="none" stroke="#0000ff" stroke-width="3.0" stroke-linejoin="miter" stroke-miterlimit="10"/>
<path d="M481.73,495.52 L473.23,509.62 L490.23,509.62 Z" fill="none" stroke="#0000ff" stroke-width="3.0" stroke-linejoin="miter" stroke-miterlimit="10"/>
<path d="M481.82,495.64 L473.32,509.74 L490.32,509.74 Z" fill="none" stroke="#0000ff" stroke-width="3.0" stroke-linejoin="miter" stroke-miterlimit="10"/>
<path d="M481.82,496.67 L473.32,510.77 L490.32,510.77 Z" fill="none" stroke="#0000ff" stroke-width="3.0" stroke-linejoin="miter" stroke-miterlimit="10"/>
<path d="M481.91,494.23 L473.41,508.33 L490.41,508.33 Z" fill="none" stroke="#0000ff" stroke-width="3.0" stroke-linejoin="miter" stroke-miterlimit="10"/>
<path d="M481.91,495.14 L473.41,509.24 L490.41,509.24 Z" fill="none" stroke="#0000ff" stroke-width="3.0" stroke-linejoin="miter" stroke-miterlimit="10"/>
<path d="M482,496.24 L473.5,510.34 L490.5,510.34 Z" fill="none" stroke="#0000ff" stroke-width="3.0" stroke-linejoin="miter" stroke-miterlimit="10"/>
<path d="M482.09,493.23 L473.59,507.33 L490.59,507.33 Z" fill="none" stroke="#0000ff" stroke-width="3.0" stroke-linejoin="miter" stroke-miterlimit="10"/>
<path d="M482.17,495.14 L473.67,509.24 L490.67,509.24 Z" fill="none" stroke="#0000ff" stroke-width="3.0" stroke-linejoin="miter" stroke-miterlimit="10"/>
<path d="M482.35,493.48 L473.85,507.58 L490.85,507.58 Z" fill="none" stroke="#0000ff" stroke-width="3.0" stroke-linejoin="miter" stroke-miterlimit="10"/>
<path d="M482.44,495.64 L473.94,509.74 L490.94,509.74 Z" fill="none" stroke="#0000ff" stroke-width="3.0" stroke-linejoin="miter" stroke-miterlimit="10"/>
<path d="M482.61,407.38 L474.11,421.48 L491.11,421.48 Z" fill="none" stroke="#0000ff" stroke-width="3.0" stroke-linejoin="miter" stroke-miterlimit="10"/>
<path d="M482.7,407.31 L474.2,421.41 L491.2,421.41 Z" fill="none" stroke="#0000ff" stroke-width="3.0" stroke-linejoin="miter" stroke-miterlimit="10"/>
<path d="M482.79,409.44 L474.29,423.54 L491.29,423.54 Z" fill="none" stroke="#0000ff" stroke-width="3.0" stroke-linejoin="miter" stroke-miterlimit="10"/>
<path d="M482.87,405.93 L474.37,420.03 L491.37,420.03 Z" fill="none" stroke="#0000ff" stroke-width="3.0" stroke-linejoin="miter" stroke-miterlimit="10"/>
<path d="M483.05,407.53 L474.55,421.63 L491.55,421.63 Z" fill="none" stroke="#0000ff" stroke-width="3.0" stroke-linejoin="miter" stroke-miterlimit="10"/>
<path d="M483.14,402.55 L474.64,416.65 L491.64,416.65 Z" fill="none" stroke="#0000ff" stroke-width="3.0" stroke-linejoin="miter" stroke-miterlimit="10"/>
<path d="M483.22,408.47 L474.72,422.57 L491.72,422.57 Z" fill="none" stroke="#0000ff" stroke-width="3.0" stroke-linejoin="miter" stroke-miterlimit="10"/>
<path d="M483.4,406.69 L474.9,420.79 L491.9,420.79 Z" fill="none" stroke="#0000ff" stroke-width="3.0" stroke-linejoin="miter" stroke-miterlimit="10"/>
<path d="M483.49,410.23 L474.99,424.33 L491.99,424.33 Z" fill="none" stroke="#0000ff" stroke-width="3.0" stroke-linejoin="miter" stroke-miterlimit="10"/>
<path d="M483.58,410.23 L475.08,424.33 L492.08,424.33 Z" fill="none" stroke="#0000ff" stroke-width="3.0" stroke-linejoin="miter" stroke-miterlimit="10"/>
<path d="M483.67,402.33 L475.17,416.43 L492.17,416.43 Z" fill="none" stroke="#0000ff" stroke-width="3.0" stroke-linejoin="miter" stroke-miterlimit="10"/>
<path d="M483.84,396.85 L475.34,410.95 L492.34,410.95 Z" fill="none" stroke="#0000ff" stroke-width="3.0" stroke-linejoin="miter" stroke-miterlimit="10"/>
<path d="M483.93,372.61 L475.43,386.71 L492.43,386.71 Z" fill="none" stroke="#0000ff" stroke-width="3.0" stroke-linejoin="miter" stroke-miterlimit="10"/>
<path d="M484.01,379 L475.51,393.1 L492.51,393.1 Z" fill="none" stroke="#0000ff" stroke-width="3.0" stroke-linejoin="miter" stroke-miterlimit="10"/>
<path d="M484.1,378.56 L475.6,392.66 L492.6,392.66 Z" fill="none" stroke="#0000ff" stroke-width="3.0" stroke-linejoin="miter" stroke-miterlimit="10"/>
<path d="M484.28,375.99 L475.78,390.09 L492.78,390.09 Z" fill="none" stroke="#0000ff" stroke-width="3.0" stroke-linejoin="miter" stroke-miterlimit="10"/>
<path d="M484.36,322.9 L475.86,337 L492.86,337 Z" fill="none" stroke="#0000ff" stroke-width="3.0" stroke-linejoin="miter" stroke-miterlimit="10"/>
<path d="M484.45,322.9 L475.95,337 L492.95,337 Z" fill="none" stroke="#0000ff" stroke-width="3.0" stroke-linejoin="miter" stroke-miterlimit="10"/>
<path d="M484.54,322.9 L476.04,337 L493.04,337 Z" fill="none" stroke="#0000ff" stroke-width="3.0" stroke-linejoin="miter" stroke-miterlimit="10"/>
<path d="M484.72,322.9 L476.22,337 L493.22,337 Z" fill="none" stroke="#0000ff" stroke-width="3.0" stroke-linejoin="miter" stroke-miterlimit="10"/>
<path d="M484.81,322.9 L476.31,337 L493.31,337 Z" fill="none" stroke="#0000ff" stroke-width="3.0" stroke-linejoin="miter" stroke-miterlimit="10"/>
<path d="M484.98,322.9 L476.48,337 L493.48,337 Z" fill="none" stroke="#0000ff" stroke-width="3.0" stroke-linejoin="miter" stroke-miterlimit="10"/>
<path d="M485.07,322.9 L476.57,337 L493.57,337 Z" fill="none" stroke="#0000ff" stroke-width="3.0" stroke-linejoin="miter" stroke-miterlimit="10"/>
<path d="M485.16,322.9 L476.66,337 L493.66,337 Z" fill="none" stroke="#0000ff" stroke-width="3.0" stroke-linejoin="miter" stroke-miterlimit="10"/>
<path d="M485.33,322.9 L476.83,337 L493.83,337 Z" fill="none" stroke="#0000ff" stroke-width="3.0" stroke-linejoin="miter" stroke-miterlimit="10"/>
<path d="M485.42,322.9 L476.92,337 L493.92,337 Z" fill="none" stroke="#0000ff" stroke-width="3.0" stroke-linejoin="miter" stroke-miterlimit="10"/>
<path d="M485.51,322.9 L477.01,337 L494.01,337 Z" fill="none" stroke="#0000ff" stroke-width="3.0" stroke-linejoin="miter" stroke-miterlimit="10"/>
<path d="M485.69,322.9 L477.19,337 L494.19,337 Z" fill="none" stroke="#0000ff" stroke-width="3.0" stroke-linejoin="miter" stroke-miterlimit="10"/>
<path d="M485.77,322.9 L477.27,337 L494.27,337 Z" fill="none" stroke="#0000ff" stroke-width="3.0" stroke-linejoin="miter" stroke-miterlimit="10"/>
<path d="M485.86,322.9 L477.36,337 L494.36,337 Z" fill="none" stroke="#0000ff" stroke-width="3.0" stroke-linejoin="miter" stroke-miterlimit="10"/>
<path d="M486.04,322.9 L477.54,337 L494.54,337 Z" fill="none" stroke="#0000ff" stroke-width="3.0" stroke-linejoin="miter" stroke-miterlimit="10"/>
<path d="M486.13,322.9 L477.63,337 L494.63,337 Z" fill="none" stroke="#0000ff" stroke-width="3.0" stroke-linejoin="miter" stroke-miterlimit="10"/>
<polyline points="460.42,507.55 460.51,505.96 460.59,507.9 460.68,506.66 460.77,505.25 460.85,507.37 460.94,507.74 461.02,490.2 461.11,507.59 461.2,503.61 461.28,501.76 461.28,416.63 461.37,422.08 461.37,409.08 461.46,426.87 461.54,425.4 461.63,418.44 461.63,426.87 461.72,415.19 461.8,414.18 461.8,423.33 461.89,429.41 461.89,415.47 461.98,428.4 462.07,420.64 462.07,332.37 462.15,333.91 462.15,331.46 462.24,331.53 462.32,331.4 462.41,331.4 462.5,331.4 462.58,331.4" fill="none" stroke="#ff00ff" stroke-width="3.0" stroke-linejoin="round"/>
<path d="M460.42,516.05 L451.92,501.95 L468.92,501.95 Z" fill="none" stroke="#ff00ff" stroke-width="3.0" stroke-linejoin="miter" stroke-miterlimit="10"/>
<path d="M460.51,514.46 L452.01,500.36 L469.01,500.36 Z" fill="none" stroke="#ff00ff" stroke-width="3.0" stroke-linejoin="miter" stroke-miterlimit="10"/>
<path d="M460.59,516.4 L452.09,502.3 L469.09,502.3 Z" fill="none" stroke="#ff00ff" stroke-width="3.0" stroke-linejoin="miter" stroke-miterlimit="10"/>
<path d="M460.68,515.16 L452.18,501.06 L469.18,501.06 Z" fill="none" stroke="#ff00ff" stroke-width="3.0" stroke-linejoin="miter" stroke-miterlimit="10"/>
<path d="M460.77,513.75 L452.27,499.65 L469.27,499.65 Z" fill="none" stroke="#ff00ff" stroke-width="3.0" stroke-linejoin="miter" stroke-miterlimit="10"/>
<path d="M460.85,515.87 L452.35,501.77 L469.35,501.77 Z" fill="none" stroke="#ff00ff" stroke-width="3.0" stroke-linejoin="miter" stroke-miterlimit="10"/>
<path d="M460.94,516.24 L452.44,502.14 L469.44,502.14 Z" fill="none" stroke="#ff00ff" stroke-width="3.0" stroke-linejoin="miter" stroke-miterlimit="10"/>
<path d="M461.02,498.7 L452.52,484.6 L469.52,484.6 Z" fill="none" stroke="#ff00ff" stroke-width="3.0" stroke-linejoin="miter" stroke-miterlimit="10"/>
<path d="M461.11,516.09 L452.61,501.99 L469.61,501.99 Z" fill="none" stroke="#ff00ff" stroke-width="3.0" stroke-linejoin="miter" stroke-miterlimit="10"/>
<path d="M461.2,512.11 L452.7,498.01 L469.7,498.01 Z" fill="none" stroke="#ff00ff" stroke-width="3.0" stroke-linejoin="miter" stroke-miterlimit="10"/>
<path d="M461.28,510.26 L452.78,496.16 L469.78,496.16 Z" fill="none" stroke="#ff00ff" stroke-width="3.0" stroke-linejoin="miter" stroke-miterlimit="10"/>
<path d="M461.28,425.13 L452.78,411.03 L469.78,411.03 Z" fill="none" stroke="#ff00ff" stroke-width="3.0" stroke-linejoin="miter" stroke-miterlimit="10"/>
<path d="M461.37,430.58 L452.87,416.48 L469.87,416.48 Z" fill="none" stroke="#ff00ff" stroke-width="3.0" stroke-linejoin="miter" stroke-miterlimit="10"/>
<path d="M461.37,417.58 L452.87,403.48 L469.87,403.48 Z" fill="none" stroke="#ff00ff" stroke-width="3.0" stroke-linejoin="miter" stroke-miterlimit="10"/>
<path d="M461.46,435.37 L452.96,421.27 L469.96,421.27 Z" fill="none" stroke="#ff00ff" stroke-width="3.0" stroke-linejoin="miter" stroke-miterlimit="10"/>
<path d="M461.54,433.9 L453.04,419.8 L470.04,419.8 Z" fill="#ff00ff" stroke="#ff00ff" stroke-width="3.0" stroke-linejoin="miter" stroke-miterlimit="10"/>
<path d="M461.63,426.94 L453.13,412.84 L470.13,412.84 Z" fill="none" stroke="#ff00ff" stroke-width="3.0" stroke-linejoin="miter" stroke-miterlimit="10"/>
<path d="M461.63,435.37 L453.13,421.27 L470.13,421.27 Z" fill="none" stroke="#ff00ff" stroke-width="3.0" stroke-linejoin="miter" stroke-miterlimit="10"/>
<path d="M461.72,423.69 L453.22,409.59 L470.22,409.59 Z" fill="none" stroke="#ff00ff" stroke-width="3.0" stroke-linejoin="miter" stroke-miterlimit="10"/>
<path d="M461.8,422.68 L453.3,408.58 L470.3,408.58 Z" fill="none" stroke="#ff00ff" stroke-width="3.0" stroke-linejoin="miter" stroke-miterlimit="10"/>
<path d="M461.8,431.83 L453.3,417.73 L470.3,417.73 Z" fill="none" stroke="#ff00ff" stroke-width="3.0" stroke-linejoin="miter" stroke-miterlimit="10"/>
<path d="M461.89,437.91 L453.39,423.81 L470.39,423.81 Z" fill="none" stroke="#ff00ff" stroke-width="3.0" stroke-linejoin="miter" stroke-miterlimit="10"/>
<path d="M461.89,423.97 L453.39,409.87 L470.39,409.87 Z" fill="none" stroke="#ff00ff" stroke-width="3.0" stroke-linejoin="miter" stroke-miterlimit="10"/>
<path d="M461.98,436.9 L453.48,422.8 L470.48,422.8 Z" fill="none" stroke="#ff00ff" stroke-width="3.0" stroke-linejoin="miter" stroke-miterlimit="10"/>
<path d="M462.07,429.14 L453.57,415.04 L470.57,415.04 Z" fill="none" stroke="#ff00ff" stroke-width="3.0" stroke-linejoin="miter" stroke-miterlimit="10"/>
<path d="M462.07,340.87 L453.57,326.77 L470.57,326.77 Z" fill="none" stroke="#ff00ff" stroke-width="3.0" stroke-linejoin="miter" stroke-miterlimit="10"/>
<path d="M462.15,342.41 L453.65,328.31 L470.65,328.31 Z" fill="#ff00ff" stroke="#ff00ff" stroke-width="3.0" stroke-linejoin="miter" stroke-miterlimit="10"/>
<path d="M462.15,339.96 L453.65,325.86 L470.65,325.86 Z" fill="#ff00ff" stroke="#ff00ff" stroke-width="3.0" stroke-linejoin="miter" stroke-miterlimit="10"/>
<path d="M462.24,340.03 L453.74,325.93 L470.74,325.93 Z" fill="none" stroke="#ff00ff" stroke-width="3.0" stroke-linejoin="miter" stroke-miterlimit="10"/>
<path d="M462.32,339.9 L453.82,325.8 L470.82,325.8 Z" fill="none" stroke="#ff00ff" stroke-width="3.0" stroke-linejoin="miter" stroke-miterlimit="10"/>
<path d="M462.41,339.9 L453.91,325.8 L470.91,325.8 Z" fill="none" stroke="#ff00ff" stroke-width="3.0" stroke-linejoin="miter" stroke-miterlimit="10"/>
<path d="M462.5,339.9 L454,325.8 L471,325.8 Z" fill="none" stroke="#ff00ff" stroke-width="3.0" stroke-linejoin="miter" stroke-miterlimit="10"/>
<path d="M462.58,339.9 L454.08,325.8 L471.08,325.8 Z" fill="none" stroke="#ff00ff" stroke-width="3.0" stroke-linejoin="miter" stroke-miterlimit="10"/>
<rect x="436.3" y="331.4" width="176.7" height="176.5" fill="none" stroke="#000" stroke-width="1.8"/>
<text x="422.6" y="516.85" text-anchor="end">0</text>
<text x="422.6" y="481.55" text-anchor="end">20</text>
<text x="422.6" y="446.25" text-anchor="end">40</text>
<text x="422.6" y="410.95" text-anchor="end">60</text>
<text x="422.6" y="375.65" text-anchor="end">80</text>
<text x="422.6" y="340.35" text-anchor="end">100</text>
<text x="436.3" y="542.2" text-anchor="middle">0·10<tspan font-size="18" dy="-9">0</tspan></text>
<text x="524.65" y="542.2" text-anchor="middle">1·10<tspan font-size="18" dy="-9">-3</tspan></text>
<text x="613" y="542.2" text-anchor="middle">2·10<tspan font-size="18" dy="-9">-3</tspan></text>
</svg>
</body></html>
